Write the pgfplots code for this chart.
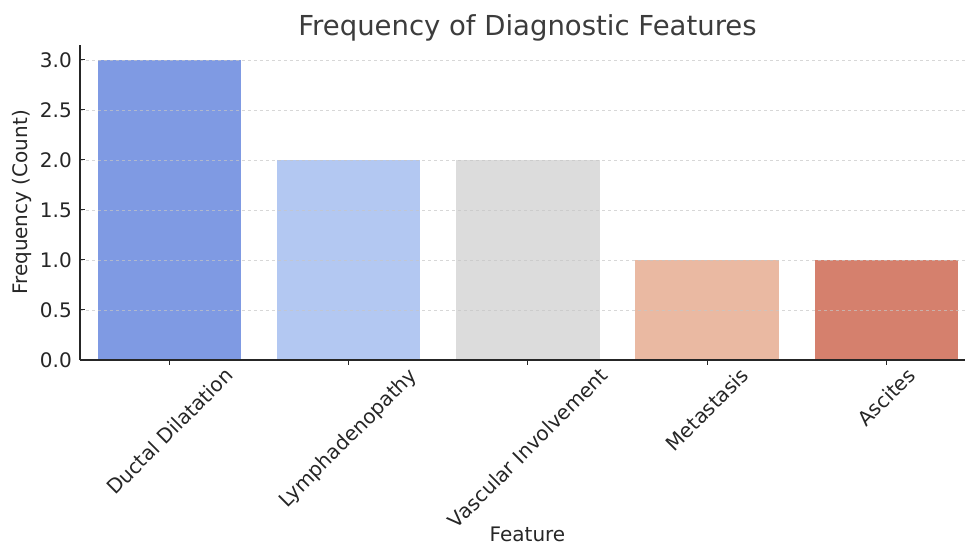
\documentclass[border=0pt]{standalone}
\usepackage{pgfplots}
\pgfplotsset{compat=1.18}
\usepackage{fontspec}
\setmainfont{DejaVu Sans}
\definecolor{c1}{HTML}{7F9AE3}
\definecolor{c2}{HTML}{B3C8F2}
\definecolor{c3}{HTML}{DCDCDC}
\definecolor{c4}{HTML}{EAB9A2}
\definecolor{c5}{HTML}{D5806D}
\definecolor{txt}{HTML}{262626}
\begin{document}
\begin{tikzpicture}
\begin{axis}[
  scale only axis, width=885pt, height=315pt,
  xmin=-0.5, xmax=4.44, ymin=0, ymax=3.15,
  axis x line*=bottom, axis y line*=left,
  axis line style={txt, line width=1.2pt},
  tick align=inside,
  major tick length=5pt,
  tick style={txt, line width=1pt},
  axis on top,
  ymajorgrids,
  grid style={dashed, gray!45, line width=0.7pt, opacity=0.7},
  ytick={0,0.5,1,1.5,2,2.5,3},
  /pgf/number format/.cd, fixed, fixed zerofill, precision=1, assume math mode=true,
  /pgfplots/.cd,
  xtick={0,1,2,3,4},
  xticklabels={{\rotatebox{45}{Ductal Dilatation}},{\rotatebox{45}{Lymphadenopathy}},{\rotatebox{45}{Vascular Involvement}},{\rotatebox{45}{Metastasis}},{\rotatebox{45}{Ascites}}},
  xticklabel style={anchor=north, inner sep=0pt, yshift=-1pt, font=\fontsize{20}{24}\selectfont, text=txt},
  yticklabel style={anchor=east, inner sep=0pt, xshift=-8pt, font=\fontsize{20}{24}\selectfont, text=txt},
  title={Frequency of Diagnostic Features},
  title style={at={(axis description cs:0.5,1)}, anchor=center, yshift=11pt, xshift=5pt, font=\fontsize{27.5}{32}\selectfont, text=txt!90},
  xlabel={Feature},
  xlabel style={at={(axis description cs:0.5,0)}, anchor=center, yshift=-174pt, xshift=5pt, font=\fontsize{20}{24}\selectfont, text=txt},
  ylabel={Frequency (Count)},
  ylabel style={at={(axis description cs:-0.0655,0.5)}, anchor=center, font=\fontsize{20}{24}\selectfont, text=txt},
  ybar, bar width=0.8, bar shift=0pt,
]
\addplot[fill=c1, draw=none] coordinates {(0,3)};
\addplot[fill=c2, draw=none] coordinates {(1,2)};
\addplot[fill=c3, draw=none] coordinates {(2,2)};
\addplot[fill=c4, draw=none] coordinates {(3,1)};
\addplot[fill=c5, draw=none] coordinates {(4,1)};
\coordinate (bl) at (rel axis cs:0,0);
\coordinate (tr) at (rel axis cs:1,1);
\end{axis}
\pgfresetboundingbox
\path[use as bounding box] ([xshift=-80pt,yshift=-185pt]bl) rectangle ([yshift=45pt]tr);
\end{tikzpicture}
\end{document}
